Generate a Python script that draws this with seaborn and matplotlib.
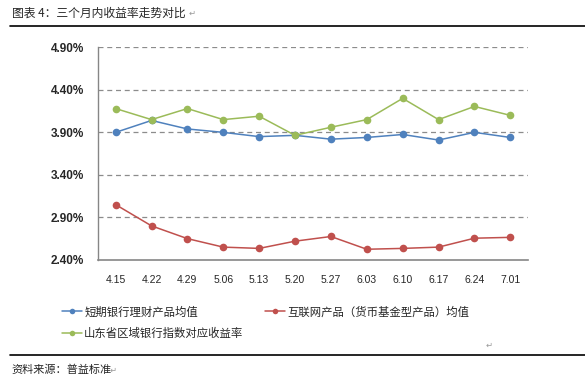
import numpy as np
import pandas as pd
import seaborn as sns
import matplotlib.pyplot as plt
from matplotlib.lines import Line2D

dates = ["4.15", "4.22", "4.29", "5.06", "5.13", "5.20",
         "5.27", "6.03", "6.10", "6.17", "6.24", "7.01"]
bank_short = [3.90, 4.04, 3.94, 3.90, 3.85, 3.865, 3.82, 3.84, 3.875, 3.81, 3.90, 3.84]
internet = [3.05, 2.80, 2.65, 2.55, 2.535, 2.62, 2.675, 2.525, 2.535, 2.55, 2.655, 2.665]
sd_index = [4.18, 4.05, 4.18, 4.05, 4.09, 3.865, 3.96, 4.05, 4.30, 4.05, 4.205, 4.10]
series_names = ["短期银行理财产品均值", "互联网产品（货币基金型产品）均值", "山东省区域银行指数对应收益率"]
colors = ["#4F81BD", "#C0504D", "#9BBB59"]
yticks = [2.40, 2.90, 3.40, 3.90, 4.40, 4.90]


def main():
    sns.set_theme(style="white")
    plt.rcParams['font.family'] = ['Noto Sans CJK SC', 'DejaVu Sans']

    df = pd.DataFrame({
        "pos": list(range(len(dates))) * 3,
        "value": bank_short + internet + sd_index,
        "series": [series_names[0]] * 12 + [series_names[1]] * 12 + [series_names[2]] * 12,
    })

    fig = plt.figure(figsize=(5.85, 3.85), dpi=100)
    ax = fig.add_axes([0.167, 0.325, 0.736, 0.552])

    sns.lineplot(data=df, x="pos", y="value", hue="series", palette=colors,
                 hue_order=series_names, marker="o", markersize=5.5,
                 markeredgewidth=0, linewidth=1.1, ax=ax, legend=False)

    ax.set_xlim(-0.5, len(dates) - 0.5)
    ax.set_ylim(2.40, 4.90)
    ax.set_xticks(range(len(dates)))
    ax.set_xticklabels(dates, fontsize=7.5, family=['Liberation Sans', 'DejaVu Sans'])
    ax.set_yticks(yticks)
    ax.set_yticklabels([f"{v:.2f}%" for v in yticks], fontsize=8.5, fontweight='bold',
                       family=['Liberation Sans', 'DejaVu Sans'])
    ax.tick_params(axis='x', length=0, pad=11)
    ax.tick_params(axis='y', length=0, pad=10)
    ax.set_xlabel("")
    ax.set_ylabel("")
    for y in yticks[1:]:
        ax.axhline(y, color="#8c8c8c", linestyle=(0, (4, 3)), linewidth=0.9, zorder=0)
    for side in ["top", "right"]:
        ax.spines[side].set_visible(False)
    ax.spines["left"].set_color("#868686")
    ax.spines["bottom"].set_color("#868686")
    ax.spines["left"].set_linewidth(1.0)
    ax.spines["bottom"].set_linewidth(1.2)

    # legend: row-wise order blue, red / green
    order = [0, 2, 1]
    handles = [Line2D([0], [0], color=colors[i], marker="o", markersize=4, markeredgewidth=0,
                      linewidth=1.1) for i in order]
    labels = [series_names[i] for i in order]
    fig.legend(handles, labels, loc="upper left", bbox_to_anchor=(0.098, 0.217),
               ncol=2, frameon=False, fontsize=8.2, handlelength=1.8, handletextpad=0.15,
               columnspacing=1.9, labelspacing=0.9, borderaxespad=0)

    # title, rules and source
    fig.text(12 / 585, 1 - 13 / 385, "图表 4：三个月内收益率走势对比", fontsize=8.5, va="center")
    fig.text(189 / 585, 1 - 13 / 385, "↵", fontsize=6, color="#999999", va="center",
             family=['DejaVu Sans'])
    fig.add_artist(Line2D([10 / 585, 585 / 585], [1 - 25.5 / 385] * 2, color="black", linewidth=1.2))
    fig.text(486 / 585, 1 - 345 / 385, "↵", fontsize=6, color="#999999", va="center",
             family=['DejaVu Sans'])
    fig.add_artist(Line2D([10 / 585, 585 / 585], [1 - 355 / 385] * 2, color="black", linewidth=1.2))
    fig.text(11 / 585, 1 - 370 / 385, "资料来源：普益标准", fontsize=8, va="center")
    fig.text(110 / 585, 1 - 370 / 385, "↵", fontsize=6, color="#999999", va="center",
             family=['DejaVu Sans'])

    fig.savefig("out.png", dpi=100)


if __name__ == '__main__':
    main()
